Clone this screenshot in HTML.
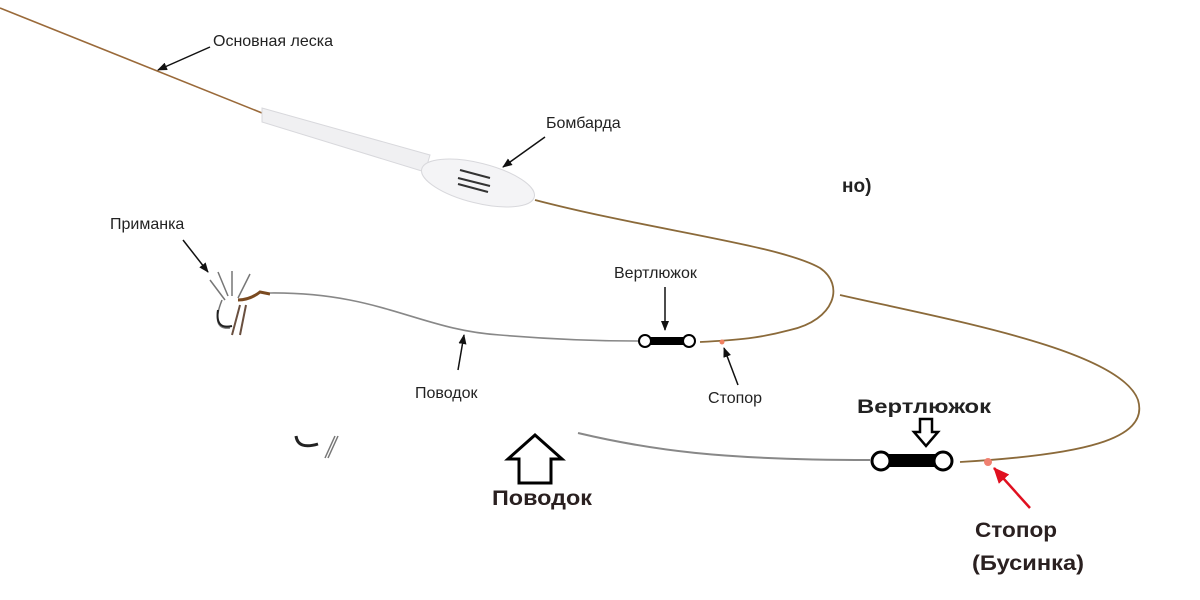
<!DOCTYPE html>
<html><head><meta charset="utf-8"><style>
html,body{margin:0;padding:0;background:#fff;}
svg{display:block}
text{font-family:"Liberation Sans","DejaVu Sans",sans-serif;fill:#222}
</style></head><body>
<svg width="1200" height="600" viewBox="0 0 1200 600" xmlns="http://www.w3.org/2000/svg">
<defs>
<marker id="ah" markerWidth="10" markerHeight="8" refX="9" refY="4" orient="auto" markerUnits="userSpaceOnUse"><path d="M0,0 L10,4 L0,8 Z" fill="#111"/></marker>
<marker id="ahr" markerWidth="16" markerHeight="14" refX="15" refY="7" orient="auto" markerUnits="userSpaceOnUse"><path d="M0,0 L16,7 L0,14 Z" fill="#e01020"/></marker>
</defs>
<path d="M0,8 Q130,60 262,113" stroke="#9a6a3a" stroke-width="1.6" fill="none"/>
<path d="M262,108 L430,155 L425,172 L262,122 Z" fill="#f0f0f2" stroke="#d8d8dc"/>
<g transform="rotate(14 478 183)"><ellipse cx="478" cy="183" rx="58" ry="20" fill="#f4f4f6" stroke="#d8d8dc"/></g>
<path d="M460,170 l30,8 M458,178 l32,8 M458,184 l30,8" stroke="#333" stroke-width="2"/>
<path d="M535,200 C650,230 780,245 820,268 C845,285 835,320 790,330 C760,338 740,340 700,342" stroke="#8b6a3a" stroke-width="1.8" fill="none"/>
<path d="M222,300 Q210,330 230,328 M225,300 l-15,-20 M228,296 l-10,-24 M232,296 l0,-25 M238,298 l12,-24" stroke="#777" stroke-width="1.5" fill="none"/>
<path d="M238,300 Q250,300 260,292 L270,294" stroke="#7a4a20" stroke-width="3" fill="none"/>
<path d="M218,310 Q215,330 232,326" stroke="#222" stroke-width="2" fill="none"/>
<path d="M240,305 l-8,30 M246,305 l-6,30" stroke="#6a5040" stroke-width="2"/>
<path d="M270,293 C380,292 420,330 500,335 C560,340 600,341 638,341" stroke="#888" stroke-width="1.6" fill="none"/>
<rect x="650" y="337" width="34" height="8" fill="#000"/>
<circle cx="645" cy="341" r="6" fill="#fff" stroke="#000" stroke-width="2"/>
<circle cx="689" cy="341" r="6" fill="#fff" stroke="#000" stroke-width="2"/>
<circle cx="722" cy="342" r="2.5" fill="#f08060"/>
<path d="M840,295 C950,320 1120,350 1138,400 C1150,440 1080,455 960,462" stroke="#8b6a3a" stroke-width="1.8" fill="none"/>
<path d="M578,433 C650,450 720,460 870,460" stroke="#888" stroke-width="2" fill="none"/>
<rect x="888" y="454" width="48" height="13" fill="#000"/>
<circle cx="881" cy="461" r="9" fill="#fff" stroke="#000" stroke-width="3"/>
<circle cx="943" cy="461" r="9" fill="#fff" stroke="#000" stroke-width="3"/>
<circle cx="988" cy="462" r="4" fill="#f08070"/>
<path d="M296,436 Q298,450 318,444" stroke="#222" stroke-width="3" fill="none"/>
<path d="M338,436 l-10,22 M335,436 l-10,22" stroke="#777" stroke-width="1.5"/>
<text x="213" y="46" font-size="16">Основная леска</text>
<line x1="210" y1="47" x2="158" y2="70" stroke="#111" stroke-width="1.5" marker-end="url(#ah)"/>
<text x="546" y="128" font-size="16">Бомбарда</text>
<line x1="545" y1="137" x2="503" y2="167" stroke="#111" stroke-width="1.5" marker-end="url(#ah)"/>
<text x="842" y="192" font-size="19" font-weight="bold">но)</text>
<text x="110" y="229" font-size="16">Приманка</text>
<line x1="183" y1="240" x2="208" y2="272" stroke="#111" stroke-width="1.5" marker-end="url(#ah)"/>
<text x="614" y="278" font-size="16">Вертлюжок</text>
<line x1="665" y1="287" x2="665" y2="330" stroke="#111" stroke-width="1.5" marker-end="url(#ah)"/>
<text x="415" y="398" font-size="16">Поводок</text>
<line x1="458" y1="370" x2="464" y2="335" stroke="#111" stroke-width="1.5" marker-end="url(#ah)"/>
<text x="708" y="403" font-size="16">Стопор</text>
<line x1="738" y1="385" x2="724" y2="348" stroke="#111" stroke-width="1.5" marker-end="url(#ah)"/>
<text x="857" y="413" font-size="19" font-weight="bold" textLength="134" lengthAdjust="spacingAndGlyphs">Вертлюжок</text>
<path d="M920,419 L932,419 L932,432 L938,432 L926,446 L914,432 L920,432 Z" fill="#fff" stroke="#000" stroke-width="2.5"/>
<line x1="1030" y1="508" x2="994" y2="468" stroke="#e01020" stroke-width="2.5" marker-end="url(#ahr)"/>
<text x="975" y="537" font-size="21" font-weight="bold" style="fill:#2a2020" textLength="82" lengthAdjust="spacingAndGlyphs">Стопор</text>
<text x="972" y="570" font-size="21" font-weight="bold" style="fill:#2a2020" textLength="112" lengthAdjust="spacingAndGlyphs">(Бусинка)</text>
<path d="M535,435 L508,459 L519,459 L519,483 L551,483 L551,459 L562,459 Z" fill="#fff" stroke="#000" stroke-width="3"/>
<text x="492" y="505" font-size="21" font-weight="bold" style="fill:#2a2020" textLength="100" lengthAdjust="spacingAndGlyphs">Поводок</text>
</svg>
</body></html>
